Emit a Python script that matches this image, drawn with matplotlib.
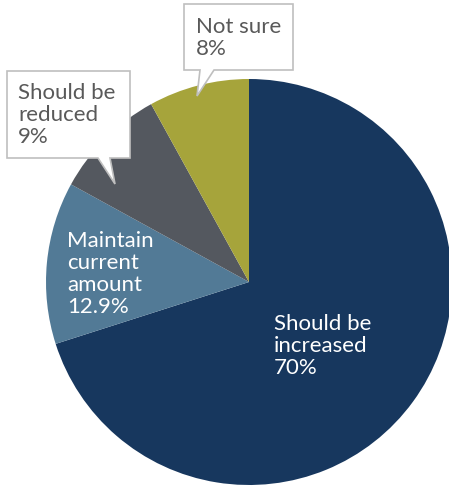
import matplotlib
matplotlib.use("Agg")
import matplotlib.pyplot as plt
from matplotlib.patches import Polygon

# data
labels = ["Should be\nincreased", "Maintain\ncurrent\namount", "Should be\nreduced", "Not sure"]
values = [70, 12.9, 9, 8]
pct_text = ["70%", "12.9%", "9%", "8%"]
colors = ["#17375E", "#527A96", "#54585F", "#A6A43B"]

W, H = 449, 489
fig = plt.figure(figsize=(W / 100, H / 100), dpi=100)
ax = fig.add_axes([0, 0, 1, 1])

def py(y):
    # pixel row (from top) -> data y
    return H - y

ax.pie(values, colors=colors, startangle=90, counterclock=False,
       center=(249, py(283)), radius=203, frame=True,
       wedgeprops=dict(linewidth=0))
ax.set_xlim(0, W)
ax.set_ylim(0, H)
ax.set_aspect("auto")
ax.axis("off")

fnt = dict(family=["Lato", "DejaVu Sans"], fontsize=16, linespacing=1.12)

# labels inside slices
ax.text(274, py(346), labels[0] + "\n" + pct_text[0], color="white",
        ha="left", va="center", **fnt)
ax.text(67, py(274), labels[1] + "\n" + pct_text[1], color="white",
        ha="left", va="center", **fnt)

# callout boxes
def callout(x0, y0, x1, y1, bx0, bx1, tip):
    pts = [(x0, py(y0)), (x1, py(y0)), (x1, py(y1)), (bx1, py(y1)),
           (tip[0], py(tip[1])), (bx0, py(y1)), (x0, py(y1))]
    ax.add_patch(Polygon(pts, closed=True, facecolor="white",
                         edgecolor="#BFBFBF", linewidth=1.2, zorder=5))

callout(7, 72, 130, 159, 98, 110, (115, 185))
ax.text(18, py(115), labels[2] + "\n" + pct_text[2], color="#595959",
        ha="left", va="center", zorder=6, **fnt)

callout(184, 5, 293, 71, 200, 214, (197, 97))
ax.text(196, py(38), labels[3] + "\n" + pct_text[3], color="#595959",
        ha="left", va="center", zorder=6, **fnt)

fig.savefig("out.png", dpi=100)
